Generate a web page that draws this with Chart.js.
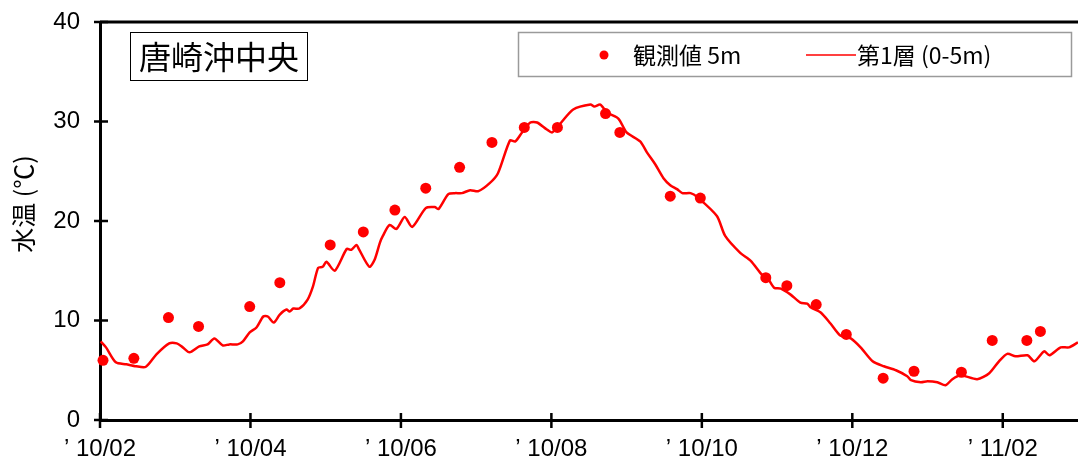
<!DOCTYPE html>
<html lang="ja">
<head>
<meta charset="utf-8">
<title>唐崎沖中央 水温</title>
<script src="https://cdn.jsdelivr.net/npm/chart.js@4.4.1/dist/chart.umd.min.js"></script>
<style>
  html, body { margin: 0; padding: 0; background: #fff; }
  #wrap { width: 1078px; height: 466px; }
</style>
</head>
<body>
<div id="wrap"><canvas id="c" width="1078" height="466"></canvas></div>
<script>
// Labels
const stationName = '唐崎沖中央';
const obsLabel = '観測値 5m';
const modelLabel = '第1層 (0-5m)';
const yAxisTitle = '水温 (℃)';

// x is measured in months elapsed since 2010-02-01
const tickMonths = [0, 2, 4, 6, 8, 10, 12];
const tickLabels = ['’ 10/02', '’ 10/04', '’ 10/06', '’ 10/08', '’ 10/10', '’ 10/12', '’ 11/02'];
const yTicks = [0, 10, 20, 30, 40];

// Observed water temperature at 5 m (°C)
const obsMonth = [0.04, 0.45, 0.91, 1.31, 1.99, 2.39, 3.06, 3.50, 3.92, 4.33, 4.78, 5.21, 5.64, 6.08,
  6.72, 6.91, 7.58, 7.98, 8.85, 9.13, 9.52, 9.92, 10.41, 10.82, 11.45, 11.86, 12.32, 12.50];
const obsTemp = [6.0, 6.2, 10.3, 9.4, 11.4, 13.8, 17.6, 18.9, 21.1, 23.3, 25.4, 27.9, 29.4, 29.4,
  30.8, 28.9, 22.5, 22.3, 14.3, 13.5, 11.6, 8.6, 4.2, 4.9, 4.8, 8.0, 8.0, 8.9];

// Simulated temperature, layer 1 (0-5 m) (°C)
const modelMonth = [0.01, 0.08, 0.21, 0.35, 0.48, 0.61, 0.75, 0.92, 1.02, 1.10, 1.19, 1.32, 1.43, 1.52,
  1.63, 1.72, 1.83, 1.90, 1.99, 2.08, 2.17, 2.23, 2.31, 2.39, 2.48, 2.52, 2.57, 2.65, 2.76, 2.83,
  2.90, 2.96, 3.01, 3.12, 3.28, 3.34, 3.41, 3.44, 3.58, 3.65, 3.72, 3.76, 3.85, 3.94, 4.05, 4.15,
  4.33, 4.45, 4.50, 4.63, 4.72, 4.81, 4.92, 5.03, 5.18, 5.29, 5.45, 5.52, 5.61, 5.72, 5.81, 5.94,
  6.01, 6.12, 6.29, 6.52, 6.57, 6.65, 6.74, 6.89, 7.00, 7.18, 7.27, 7.38, 7.49, 7.58, 7.67, 7.74,
  7.85, 7.94, 8.20, 8.31, 8.51, 8.65, 8.80, 8.87, 8.96, 9.05, 9.18, 9.31, 9.40, 9.45, 9.58, 9.71,
  9.84, 9.98, 10.11, 10.27, 10.42, 10.58, 10.73, 10.78, 10.91, 11.00, 11.13, 11.24, 11.33, 11.44,
  11.66, 11.82, 11.95, 12.06, 12.17, 12.33, 12.42, 12.55, 12.62, 12.77, 12.88, 13.0];
const modelTemp = [7.9, 7.3, 5.8, 5.6, 5.4, 5.35, 6.6, 7.7, 7.7, 7.3, 6.8, 7.4, 7.6, 8.2,
  7.5, 7.6, 7.6, 7.9, 8.8, 9.3, 10.4, 10.4, 9.8, 10.6, 11.1, 10.9, 11.2, 11.2, 12.1, 13.4,
  15.3, 15.4, 15.9, 15.0, 17.2, 17.1, 17.6, 17.2, 15.4, 16.1, 17.8, 18.5, 19.6, 19.2, 20.4, 19.4,
  21.3, 21.4, 21.2, 22.7, 22.8, 22.8, 23.1, 23.0, 23.8, 24.8, 28.1, 28.0, 28.9, 29.9, 29.9, 29.2,
  28.9, 29.8, 31.2, 31.7, 31.5, 31.7, 30.9, 30.3, 28.9, 28.0, 26.9, 25.7, 24.3, 23.6, 23.2, 22.8,
  22.8, 22.4, 20.5, 18.5, 16.8, 16.0, 14.6, 14.3, 13.3, 13.2, 12.6, 11.8, 11.7, 11.3, 10.8, 9.7,
  8.5, 8.2, 7.3, 5.9, 5.4, 5.0, 4.4, 4.0, 3.8, 3.9, 3.8, 3.5, 4.1, 4.5,
  4.1, 4.7, 5.9, 6.65, 6.4, 6.5, 5.9, 6.9, 6.5, 7.3, 7.3, 7.8];

const RED = '#ff0000';
const LATIN = '"Liberation Sans", Arial, sans-serif';
const CJK = '"Noto Sans CJK JP", "Noto Sans", sans-serif';

// Frame, crossing tick marks, axis title, station box and legend box
const decorations = {
  id: 'decorations',
  afterDraw(chart) {
    const { ctx, chartArea: a, scales } = chart;
    ctx.save();
    ctx.strokeStyle = '#000';

    // top frame line
    ctx.lineWidth = 3;
    ctx.beginPath();
    ctx.moveTo(a.left, a.top);
    ctx.lineTo(a.right, a.top);
    ctx.stroke();

    // tick marks that cross the axis lines
    ctx.lineWidth = 2.5;
    ctx.beginPath();
    scales.x.ticks.forEach(t => {
      const px = scales.x.getPixelForValue(t.value);
      ctx.moveTo(px, a.bottom - 7);
      ctx.lineTo(px, a.bottom + 8);
    });
    scales.y.ticks.forEach(t => {
      const py = scales.y.getPixelForValue(t.value);
      ctx.moveTo(a.left - 6, py);
      ctx.lineTo(a.left + 8, py);
    });
    ctx.stroke();

    // y axis title
    ctx.save();
    ctx.translate(23, 204);
    ctx.rotate(-Math.PI / 2);
    ctx.fillStyle = '#000';
    ctx.font = '25px ' + CJK;
    ctx.textAlign = 'center';
    ctx.textBaseline = 'middle';
    ctx.fillText(yAxisTitle, 0, 0);
    ctx.restore();

    // station name box
    ctx.lineWidth = 1;
    ctx.strokeStyle = '#000';
    ctx.fillStyle = '#fff';
    ctx.fillRect(130.5, 32.5, 177, 48);
    ctx.strokeRect(130.5, 32.5, 177, 48);
    ctx.fillStyle = '#000';
    ctx.font = '32px ' + CJK;
    ctx.textAlign = 'center';
    ctx.textBaseline = 'middle';
    ctx.fillText(stationName, 219, 57);

    // legend box
    ctx.fillStyle = '#fff';
    ctx.fillRect(518, 32.5, 554, 45);
    ctx.strokeStyle = '#9a9a9a';
    ctx.lineWidth = 1.5;
    ctx.strokeRect(518.5, 32.5, 553, 44);

    const ds = chart.data.datasets;
    const ly = 55;
    ctx.fillStyle = ds[0].pointBackgroundColor;
    ctx.beginPath();
    ctx.arc(604, ly, 4.5, 0, Math.PI * 2);
    ctx.fill();
    ctx.strokeStyle = ds[1].borderColor;
    ctx.lineWidth = 1.5;
    ctx.beginPath();
    ctx.moveTo(806, ly);
    ctx.lineTo(856, ly);
    ctx.stroke();

    ctx.fillStyle = '#000';
    ctx.font = '23px ' + CJK;
    ctx.textAlign = 'left';
    ctx.textBaseline = 'middle';
    ctx.fillText(ds[0].label, 633, ly);
    ctx.fillText(ds[1].label, 857, ly);
    ctx.restore();
  }
};

const toPoints = (xs, ys) => xs.map((x, i) => ({ x, y: ys[i] }));

new Chart(document.getElementById('c'), {
  type: 'scatter',
  data: {
    datasets: [
      {
        label: obsLabel,
        data: toPoints(obsMonth, obsTemp),
        showLine: false,
        pointRadius: 5.5,
        pointBackgroundColor: RED,
        pointBorderWidth: 0,
        clip: false
      },
      {
        label: modelLabel,
        data: toPoints(modelMonth, modelTemp),
        showLine: true,
        borderColor: RED,
        borderWidth: 2.5,
        pointRadius: 0,
        tension: 0.25,
        clip: false
      }
    ]
  },
  options: {
    responsive: false,
    animation: false,
    devicePixelRatio: 1,
    layout: { autoPadding: false, padding: { top: 22, right: 0, left: 0, bottom: 0 } },
    plugins: { legend: { display: false }, tooltip: { enabled: false } },
    scales: {
      x: {
        type: 'linear',
        min: 0,
        max: 13,
        afterBuildTicks: s => { s.ticks = tickMonths.map(v => ({ value: v })); },
        afterFit: s => {
          s.height = 46;
          s.paddingLeft = 0; s.paddingRight = 0; s.paddingTop = 0; s.paddingBottom = 0;
        },
        grid: { display: false, drawTicks: false },
        border: { display: true, color: '#000', width: 3 },
        ticks: {
          padding: 15,
          color: '#000',
          font: { family: LATIN, size: 24 },
          maxRotation: 0,
          autoSkip: false,
          callback: v => tickLabels[tickMonths.indexOf(v)]
        }
      },
      y: {
        min: 0,
        max: 40,
        afterBuildTicks: s => { s.ticks = yTicks.map(v => ({ value: v })); },
        afterFit: s => {
          s.width = 100;
          s.paddingLeft = 0; s.paddingRight = 0; s.paddingTop = 0; s.paddingBottom = 0;
        },
        grid: { display: false, drawTicks: false },
        border: { display: true, color: '#000', width: 3 },
        ticks: {
          padding: 20,
          color: '#000',
          font: { family: LATIN, size: 24 }
        }
      }
    }
  },
  plugins: [decorations]
});
</script>
</body>
</html>
